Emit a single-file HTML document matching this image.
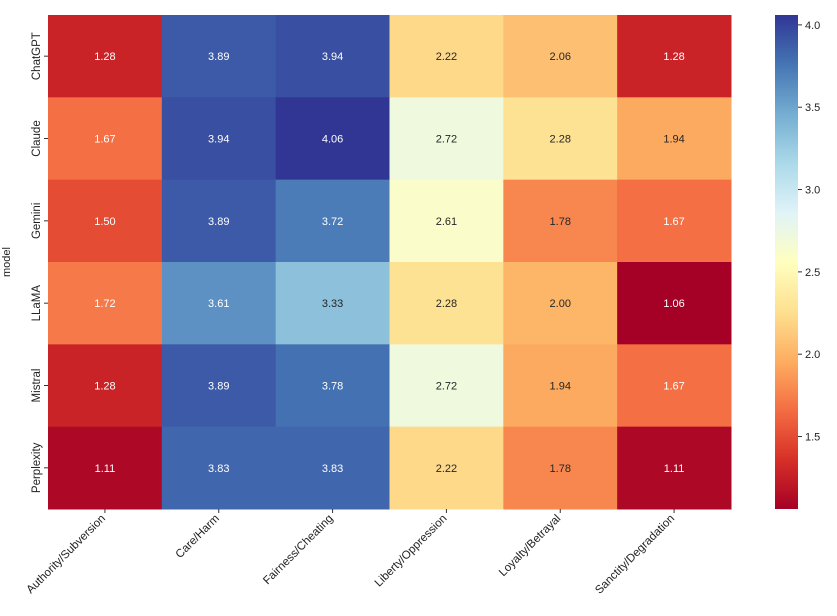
<!DOCTYPE html>
<html><head><meta charset="utf-8"><style>
body{margin:0;background:#fff;font-family:"Liberation Sans","DejaVu Sans",sans-serif}
</style></head><body>
<svg id="chart" width="837" height="611" xmlns="http://www.w3.org/2000/svg" font-family="Liberation Sans, DejaVu Sans, sans-serif"></svg>
<script>
const models=["ChatGPT","Claude","Gemini","LLaMA","Mistral","Perplexity"];
const foundations=["Authority/Subversion","Care/Harm","Fairness/Cheating","Liberty/Oppression","Loyalty/Betrayal","Sanctity/Degradation"];
const rowChatGPT=[1.28,3.89,3.94,2.22,2.06,1.28];
const rowClaude=[1.67,3.94,4.06,2.72,2.28,1.94];
const rowGemini=[1.50,3.89,3.72,2.61,1.78,1.67];
const rowLLaMA=[1.72,3.61,3.33,2.28,2.00,1.06];
const rowMistral=[1.28,3.89,3.78,2.72,1.94,1.67];
const rowPerplexity=[1.11,3.83,3.83,2.22,1.78,1.11];
const values=[rowChatGPT,rowClaude,rowGemini,rowLLaMA,rowMistral,rowPerplexity];
const cbTicks=[1.5,2.0,2.5,3.0,3.5,4.0];

const NS="http://www.w3.org/2000/svg";
const svg=document.getElementById('chart');
function mk(t,a,p){const e=document.createElementNS(NS,t);for(const k in a)e.setAttribute(k,a[k]);(p||svg).appendChild(e);return e;}
const X0=48,Y0=15,W=683,H=494;
const flat=values.flat();
const vmin=Math.min(...flat),vmax=Math.max(...flat);
const cw=W/foundations.length,ch=H/models.length;
const stops=["#a50026","#d73027","#f46d43","#fdae61","#fee090","#ffffbf","#e0f3f8","#abd9e9","#74add1","#4575b4","#313695"];
function hex(h){return [1,3,5].map(i=>parseInt(h.substr(i,2),16));}
function rgbOf(v){let t=(v-vmin)/(vmax-vmin);t=Math.max(0,Math.min(1,t))*(stops.length-1);const i=Math.min(Math.floor(t),stops.length-2),f=t-i;const a=hex(stops[i]),b=hex(stops[i+1]);return a.map((c,k)=>Math.round(c+(b[k]-c)*f));}
function cmap(v){return `rgb(${rgbOf(v).join(',')})`;}
function lum(v){const c=rgbOf(v).map(x=>{x/=255;return x<=0.03928?x/12.92:Math.pow((x+0.055)/1.055,2.4);});return 0.2126*c[0]+0.7152*c[1]+0.0722*c[2]>0.34;}
values.forEach((row,r)=>{row.forEach((v,c)=>{
  const x=X0+c*cw,y=Y0+r*ch;
  const rc=mk('rect',{x:x,y:y,width:cw+0.5,height:ch+0.5,fill:cmap(v)});
  
  
  const tx=mk('text',{x:x+cw/2,y:y+ch/2+4,'text-anchor':'middle','font-size':11,fill:lum(v)?'#262626':'#ffffff'});
  tx.textContent=v.toFixed(2);
  
  
});});
models.forEach((m,r)=>{const y=Y0+(r+0.5)*ch;
  mk('line',{x1:X0-4,x2:X0,y1:y,y2:y,stroke:'#333'});
  const t=mk('text',{x:0,y:0,transform:`translate(${X0-8},${y}) rotate(-90)`,'text-anchor':'middle','font-size':11.5,fill:'#222'});
  t.textContent=m;
  
  
});
const yt=mk('text',{transform:`translate(10,${Y0+H/2}) rotate(-90)`,'text-anchor':'middle','font-size':11,fill:'#222'});
yt.textContent='model';


foundations.forEach((f,c)=>{const x=X0+(c+0.5)*cw;
  mk('line',{x1:x,x2:x,y1:Y0+H,y2:Y0+H+4,stroke:'#333'});
  const t=mk('text',{transform:`translate(${x+1},${Y0+H+10}) rotate(-45)`,'text-anchor':'end','font-size':11.5,fill:'#222'});
  t.textContent=f;
  
  
});
const CX=775,CW=23;
const defs=mk('defs',{});
const g=mk('linearGradient',{id:'cg',x1:0,y1:1,x2:0,y2:0},defs);
stops.forEach((s,i)=>mk('stop',{offset:i/(stops.length-1),'stop-color':s},g));
const cb=mk('rect',{x:CX,y:Y0,width:CW,height:H,fill:'url(#cg)'});


cbTicks.forEach(v=>{const y=Y0+H-(v-vmin)/(vmax-vmin)*H;
  mk('line',{x1:CX+CW,x2:CX+CW+4,y1:y,y2:y,stroke:'#333'});
  const t=mk('text',{x:CX+CW+7,y:y+4,'font-size':11,fill:'#222'});
  t.textContent=v.toFixed(1);
  
  
});
</script>
</body></html>
